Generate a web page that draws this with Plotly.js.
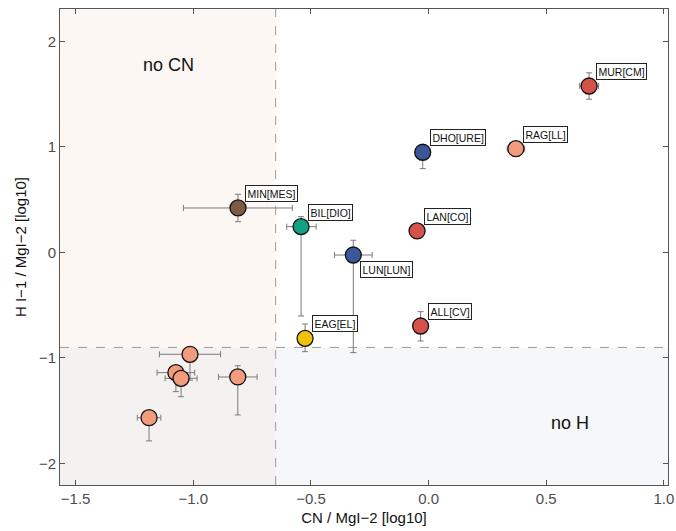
<!DOCTYPE html>
<html>
<head>
<meta charset="utf-8">
<script src="https://cdn.plot.ly/plotly-3.0.1.min.js"></script>
<style>html,body{margin:0;padding:0;background:#fff}#chart{width:676px;height:531px}</style>
</head>
<body>
<div id="chart"></div>
<script>
// ---- data ----
const labels = ['MUR[CM]','RAG[LL]','DHO[URE]','LAN[CO]','LUN[LUN]','BIL[DIO]','MIN[MES]','EAG[EL]','ALL[CV]','','','','',''];
const cnRatio = [0.682, 0.371, -0.025, -0.049, -0.320, -0.542, -0.810, -0.525, -0.034, -1.014, -1.074, -1.052, -0.811, -1.188];
const hRatio  = [1.578, 0.984, 0.950, 0.204, -0.024, 0.245, 0.422, -0.814, -0.697, -0.965, -1.139, -1.193, -1.180, -1.566];
const cnErrMinus = [0.040, 0.037, 0.000, 0.030, 0.080, 0.061, 0.232, 0.000, 0.000, 0.130, 0.080, 0.068, 0.082, 0.050];
const cnErrPlus  = [0.040, 0.037, 0.000, 0.030, 0.080, 0.064, 0.231, 0.000, 0.000, 0.130, 0.080, 0.068, 0.082, 0.050];
const hErrMinus  = [0.125, 0.030, 0.155, 0.060, 0.925, 0.847, 0.130, 0.126, 0.142, 0.245, 0.180, 0.174, 0.360, 0.220];
const hErrPlus   = [0.125, 0.030, 0.050, 0.060, 0.140, 0.095, 0.130, 0.136, 0.136, 0.050, 0.050, 0.050, 0.107, 0.050];
const groups = ['red','salmon','blue','red','blue','green','brown','yellow','red','salmon','salmon','salmon','salmon','salmon'];
const labelBelow = [false,false,false,false,true,false,false,false,false,false,false,false,false,false];
const cnThreshold = -0.65;
const hThreshold = -0.9;
const regionText = ['no CN', 'no H'];
const regionX = [-1.107, 0.60];
const regionY = [1.777, -1.616];
const tickX = [-1.5, -1.0, -0.5, 0.0, 0.5, 1.0];
const tickY = [-2, -1, 0, 1, 2];

// ---- style ----
const palette = {red:'#d5524a', salmon:'#f29b7d', blue:'#3a5897', green:'#13a083', brown:'#7c5b42', yellow:'#f0c20e'};
const FONT = 'Liberation Sans, Arial, sans-serif';
const xr = [-1.5665, 1.0174], yr = [-2.204, 2.308];

const trace = {
  x: cnRatio, y: hRatio, type: 'scatter', mode: 'markers',
  marker: {size: 16, color: groups.map(g => palette[g]), line: {color: '#111', width: 1.3}},
  error_x: {type: 'data', symmetric: false, array: cnErrPlus, arrayminus: cnErrMinus, color: '#7a7a7a', thickness: 1, width: 3},
  error_y: {type: 'data', symmetric: false, array: hErrPlus, arrayminus: hErrMinus, color: '#7a7a7a', thickness: 1, width: 3},
  hoverinfo: 'skip', showlegend: false
};

const annotations = [];
labels.forEach((t, i) => {
  if (!t) return;
  const below = labelBelow[i];
  annotations.push({
    x: cnRatio[i], y: hRatio[i], xref: 'x', yref: 'y', text: t, showarrow: false,
    xanchor: 'left', yanchor: below ? 'top' : 'bottom',
    xshift: 7, yshift: below ? -6 : 6,
    font: {family: FONT, size: 10.5, color: '#111'},
    bgcolor: '#fff', bordercolor: '#222', borderwidth: 1, borderpad: 1.5
  });
});
regionText.forEach((t, i) => {
  annotations.push({x: regionX[i], y: regionY[i], xref: 'x', yref: 'y', text: t, showarrow: false,
    font: {family: FONT, size: 18, color: '#111'}});
});

const shapes = [
  {type: 'rect', xref: 'x', yref: 'y', x0: xr[0], x1: cnThreshold, y0: hThreshold, y1: yr[1], fillcolor: '#fdf7f4', line: {width: 0}, layer: 'below'},
  {type: 'rect', xref: 'x', yref: 'y', x0: xr[0], x1: cnThreshold, y0: yr[0], y1: hThreshold, fillcolor: '#f3f2f1', line: {width: 0}, layer: 'below'},
  {type: 'rect', xref: 'x', yref: 'y', x0: cnThreshold, x1: xr[1], y0: yr[0], y1: hThreshold, fillcolor: '#f6f7f9', line: {width: 0}, layer: 'below'},
  {type: 'line', xref: 'x', yref: 'y', x0: cnThreshold, x1: cnThreshold, y0: yr[0], y1: yr[1], line: {color: '#9a9a9a', width: 1, dash: 'dash'}, layer: 'below'},
  {type: 'line', xref: 'x', yref: 'y', x0: xr[0], x1: xr[1], y0: hThreshold, y1: hThreshold, line: {color: '#9a9a9a', width: 1, dash: 'dash'}, layer: 'below'}
];

const axisCommon = {
  showgrid: false, zeroline: false, showline: true, linecolor: '#555', linewidth: 1, mirror: 'ticks',
  ticks: 'inside', ticklen: 5, tickcolor: '#555', tickwidth: 1,
  tickfont: {family: FONT, size: 15, color: '#4d4d4d'}
};

const layout = {
  width: 676, height: 531,
  margin: {l: 60, r: 8, t: 9, b: 46},
  paper_bgcolor: '#fff', plot_bgcolor: '#fff',
  xaxis: Object.assign({}, axisCommon, {range: xr, tickvals: tickX, tickformat: '.1f',
    title: {text: 'CN / MgI\u22122 [log10]', font: {family: FONT, size: 15, color: '#111'}, standoff: 6}}),
  yaxis: Object.assign({}, axisCommon, {range: yr, tickvals: tickY, tickformat: 'd',
    title: {text: 'H I\u22121 / MgI\u22122 [log10]', font: {family: FONT, size: 15, color: '#111'}, standoff: 8}}),
  shapes: shapes, annotations: annotations
};

Plotly.newPlot('chart', [trace], layout, {displayModeBar: false, staticPlot: true});
</script>
</body>
</html>
